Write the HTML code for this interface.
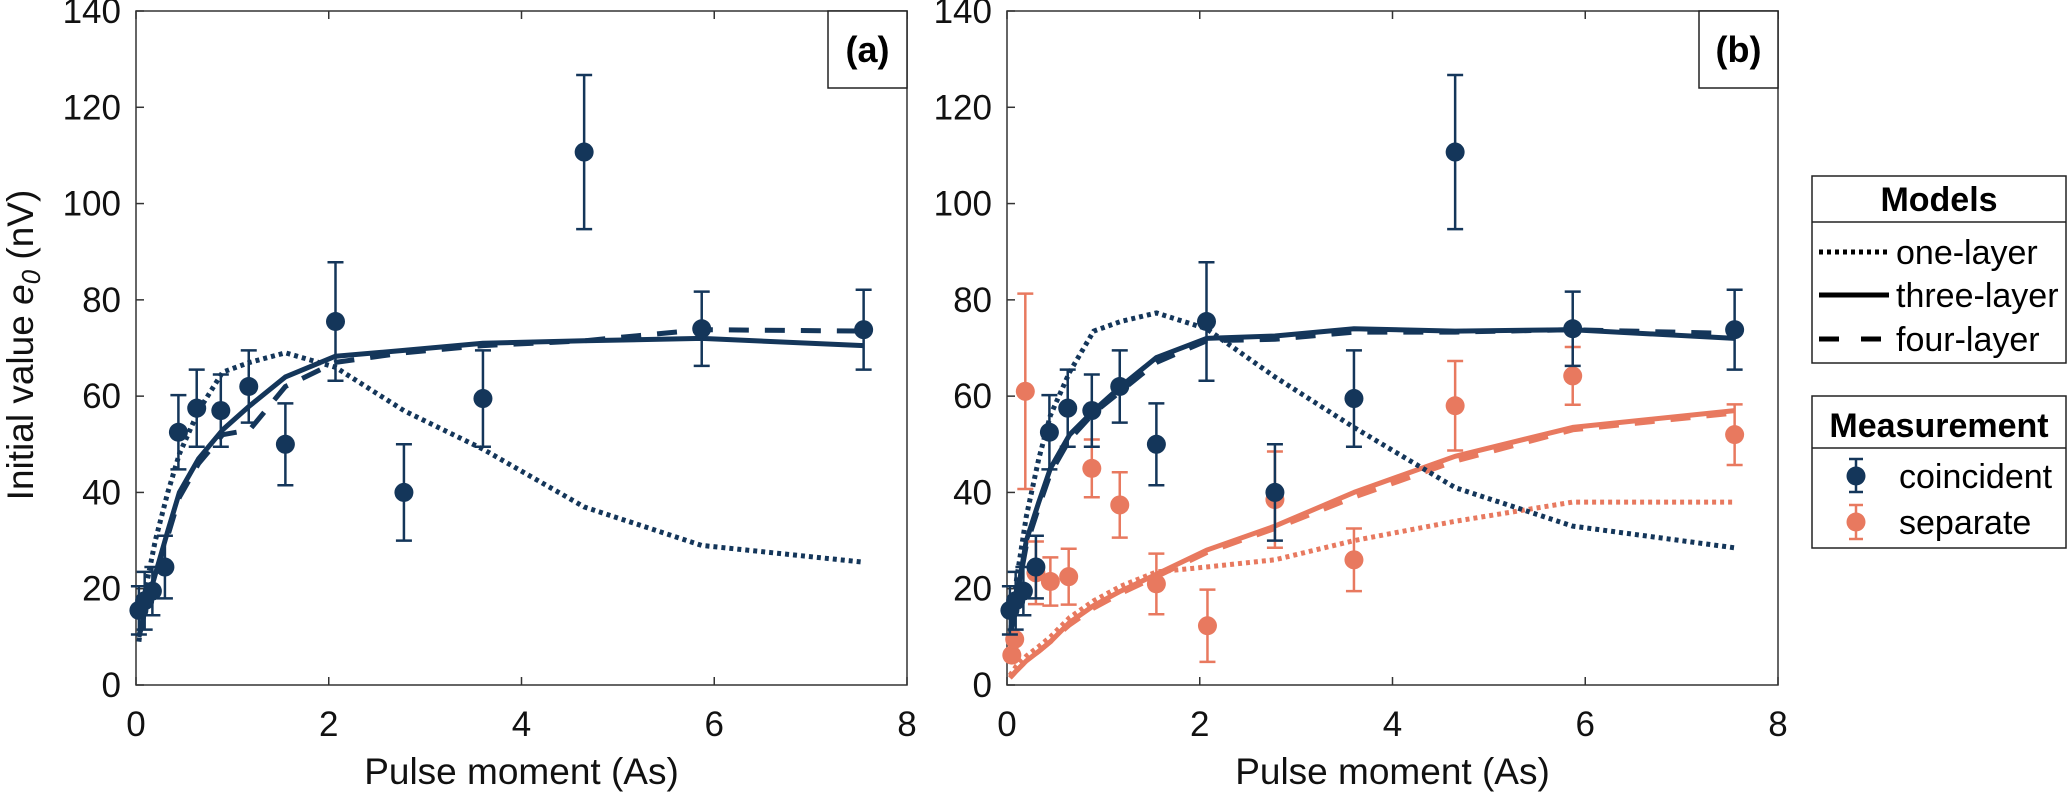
<!DOCTYPE html>
<html><head><meta charset="utf-8"><style>
html,body{margin:0;padding:0;background:#fff}
svg{display:block;font-family:"Liberation Sans",Arial,sans-serif}
</style></head><body>
<svg id="chart" width="2067" height="793" viewBox="0 0 2067 793" xmlns="http://www.w3.org/2000/svg">
<g id="panels"></g>
<g>
<text x="33" y="345" font-size="37" text-anchor="middle" transform="rotate(-90 33 345)" fill="#111">Initial value  <tspan font-style="italic">e</tspan><tspan font-style="italic" font-size="26" dy="7">0</tspan><tspan dy="-7">  (nV)</tspan></text>
</g>
<g>
<rect x="1812" y="176" width="254" height="187" fill="#fff" stroke="#222" stroke-width="1.5"/>
<line x1="1812" y1="222" x2="2066" y2="222" stroke="#222" stroke-width="1.5"/>
<text x="1939" y="211" font-size="34" font-weight="bold" text-anchor="middle">Models</text>
<g><line x1="1819" y1="252" x2="1889" y2="252" stroke="#000" stroke-width="5" stroke-dasharray="4 4"/><text x="1896" y="264" font-size="34">one-layer</text></g>
<g><line x1="1819" y1="295" x2="1889" y2="295" stroke="#000" stroke-width="5"/><text x="1896" y="307" font-size="34">three-layer</text></g>
<g><line x1="1819" y1="339" x2="1889" y2="339" stroke="#000" stroke-width="5" stroke-dasharray="20 22"/><text x="1896" y="351" font-size="34">four-layer</text></g>
</g>
<g>
<rect x="1812" y="396" width="254" height="152" fill="#fff" stroke="#222" stroke-width="1.5"/>
<line x1="1812" y1="448" x2="2066" y2="448" stroke="#222" stroke-width="1.5"/>
<text x="1939" y="437" font-size="34" font-weight="bold" text-anchor="middle">Measurement</text>
<g><line x1="1856" y1="459" x2="1856" y2="492" stroke="#14365a" stroke-width="2.5"/><line x1="1849" y1="459" x2="1863" y2="459" stroke="#14365a" stroke-width="2.5"/><line x1="1849" y1="492" x2="1863" y2="492" stroke="#14365a" stroke-width="2.5"/><circle cx="1856" cy="476" r="9.5" fill="#14365a"/><text x="1899" y="488" font-size="34">coincident</text></g>
<g><line x1="1856" y1="505" x2="1856" y2="539" stroke="#e8795f" stroke-width="2.5"/><line x1="1849" y1="505" x2="1863" y2="505" stroke="#e8795f" stroke-width="2.5"/><line x1="1849" y1="539" x2="1863" y2="539" stroke="#e8795f" stroke-width="2.5"/><circle cx="1856" cy="522" r="9.5" fill="#e8795f"/><text x="1899" y="534" font-size="34">separate</text></g>
</g>
</svg>
<script>
const xTicks = [0, 2, 4, 6, 8];
const yTicks = [0, 20, 40, 60, 80, 100, 120, 140];
const coX = [0.03, 0.09, 0.17, 0.3, 0.44, 0.63, 0.88, 1.17, 1.55, 2.07, 2.78, 3.6, 4.65, 5.87, 7.55];
const coY = [15.5, 17.5, 19.5, 24.5, 52.5, 57.5, 57, 62, 50, 75.5, 40, 59.5, 110.7, 74, 73.8];
const coErr = [5, 6, 5, 6.5, 7.7, 8, 7.5, 7.5, 8.5, 12.3, 10, 10, 16, 7.7, 8.3];
const sepX = [0.05, 0.08, 0.19, 0.3, 0.45, 0.64, 0.88, 1.17, 1.55, 2.08, 2.78, 3.6, 4.65, 5.87, 7.55];
const sepY = [6.2, 9.5, 61, 23.3, 21.5, 22.5, 45, 37.4, 21, 12.3, 38.5, 26, 58, 64.2, 52];
const sepErr = [0, 0, 20.3, 6.5, 5, 5.8, 6, 6.8, 6.3, 7.5, 10, 6.5, 9.3, 6, 6.3];
const mX = [0.03, 0.1, 0.2, 0.33, 0.45, 0.65, 0.9, 1.18, 1.55, 2.07, 2.78, 3.6, 4.65, 5.87, 7.55];
const aOne = [9, 20, 30, 40, 48, 57, 65, 67, 69, 66, 57, 49, 37, 29, 25.5];
const aThree = [10, 16, 23, 32, 40, 47, 53, 58, 64, 68.3, 69.5, 71, 71.5, 72, 70.5];
const aFour = [10, 16, 23, 31, 39, 46, 52, 53, 62, 67, 69, 70.5, 71.5, 73.8, 73.5];
const bOne = [10, 22, 35, 47, 56, 65, 73.5, 75.5, 77.3, 74, 64, 53.5, 41, 33, 28.5];
const bThree = [10, 18, 30, 38, 45, 52, 57, 62, 68, 72, 72.5, 74, 73.5, 73.8, 72];
const bFour = [10, 18, 29, 37, 44, 51, 56.5, 61, 67, 71.5, 71.8, 73.3, 73.3, 73.8, 73];
const sOne = [2, 4, 6, 8, 10, 14, 17.5, 20.5, 23.5, 24.5, 26, 30, 34, 38, 38];
const sThree = [1.5, 3, 5, 7, 9, 13, 16.5, 19.5, 23, 28, 33, 40, 47.5, 53.5, 57];
const sFour = [1.5, 3, 5, 7, 9, 12.5, 16, 19, 22.5, 27.5, 32.5, 39, 46.5, 53, 56.5];

const NS = 'http://www.w3.org/2000/svg';
const NAVY = '#14365a', ORANGE = '#e8795f';
const Y0 = 685, Y1 = 11;
function mk(tag, attrs, parent) {
  const e = document.createElementNS(NS, tag);
  for (const k in attrs) e.setAttribute(k, attrs[k]);
  parent.appendChild(e);
  return e;
}
function drawPanel(left, label, lines, series) {
  const right = left + 771;
  const sx = v => left + (v / 8) * (right - left);
  const sy = v => Y0 - (v / 140) * (Y0 - Y1);
  const g = mk('g', {}, document.getElementById('panels'));
  
  
  const box = mk('rect', {x: left, y: Y1, width: right - left, height: Y0 - Y1, fill: 'none', stroke: '#333', 'stroke-width': 1.5}, g);
  
  
  xTicks.forEach(t => {
    const x = sx(t);
    mk('line', {x1: x, y1: Y0, x2: x, y2: Y0 - 8, stroke: '#333', 'stroke-width': 1.5}, g);
    mk('line', {x1: x, y1: Y1, x2: x, y2: Y1 + 8, stroke: '#333', 'stroke-width': 1.5}, g);
    const tx = mk('text', {x: x, y: Y0 + 51, 'font-size': 35, 'text-anchor': 'middle', fill: '#111'}, g);
    tx.textContent = t;
    
    
  });
  yTicks.forEach(t => {
    const y = sy(t);
    mk('line', {x1: left, y1: y, x2: left + 8, y2: y, stroke: '#333', 'stroke-width': 1.5}, g);
    const ty = mk('text', {x: left - 15, y: y + 12, 'font-size': 35, 'text-anchor': 'end', fill: '#111'}, g);
    ty.textContent = t;
    
    
  });
  const xt = mk('text', {x: (left + right) / 2, y: 784, 'font-size': 37, 'text-anchor': 'middle', fill: '#111'}, g);
  xt.textContent = 'Pulse moment (As)';
  
  
  lines.forEach(L => {
    const d = mX.map((x, i) => (i ? 'L' : 'M') + sx(x).toFixed(1) + ',' + sy(L.v[i]).toFixed(1)).join(' ');
    const p = mk('path', {d: d, fill: 'none', stroke: L.c, 'stroke-width': 5, 'stroke-linejoin': 'round'}, g);
    if (L.dash) p.setAttribute('stroke-dasharray', L.dash);
    
    
  });
  series.forEach(S => {
    S.x.forEach((xv, i) => {
      const x = sx(xv), y = sy(S.y[i]), e = S.e[i];
      const pg = mk('g', {}, g);
      
      
      if (e > 0) {
        const yt = sy(S.y[i] + e), yb = sy(S.y[i] - e);
        mk('line', {x1: x, y1: yt, x2: x, y2: yb, stroke: S.c, 'stroke-width': 2.5}, pg);
        mk('line', {x1: x - 8, y1: yt, x2: x + 8, y2: yt, stroke: S.c, 'stroke-width': 2.5}, pg);
        mk('line', {x1: x - 8, y1: yb, x2: x + 8, y2: yb, stroke: S.c, 'stroke-width': 2.5}, pg);
      }
      mk('circle', {cx: x, cy: y, r: 9.5, fill: S.c}, pg);
    });
  });
  const lb = mk('g', {}, g);
  
  
  mk('rect', {x: right - 79, y: Y1, width: 79, height: 77, fill: '#fff', stroke: '#222', 'stroke-width': 1.5}, lb);
  const t = mk('text', {x: right - 39.5, y: Y1 + 51, 'font-size': 36, 'font-weight': 'bold', 'text-anchor': 'middle'}, lb);
  t.textContent = '(' + label + ')';
}
drawPanel(136, 'a', [
  {v: aOne, c: NAVY, dash: '4 4', name: 'one-layer-line'},
  {v: aThree, c: NAVY, name: 'three-layer-line'},
  {v: aFour, c: NAVY, dash: '20 16', name: 'four-layer-line'}
], [{x: coX, y: coY, e: coErr, c: NAVY, name: 'coincident'}]);
drawPanel(1007, 'b', [
  {v: sOne, c: ORANGE, dash: '4 4', name: 'separate-one-layer-line'},
  {v: sThree, c: ORANGE, name: 'separate-three-layer-line'},
  {v: sFour, c: ORANGE, dash: '20 16', name: 'separate-four-layer-line'},
  {v: bOne, c: NAVY, dash: '4 4', name: 'coincident-one-layer-line'},
  {v: bThree, c: NAVY, name: 'coincident-three-layer-line'},
  {v: bFour, c: NAVY, dash: '20 16', name: 'coincident-four-layer-line'}
], [
  {x: sepX, y: sepY, e: sepErr, c: ORANGE, name: 'separate'},
  {x: coX, y: coY, e: coErr, c: NAVY, name: 'coincident'}
]);
</script>
</body></html>
